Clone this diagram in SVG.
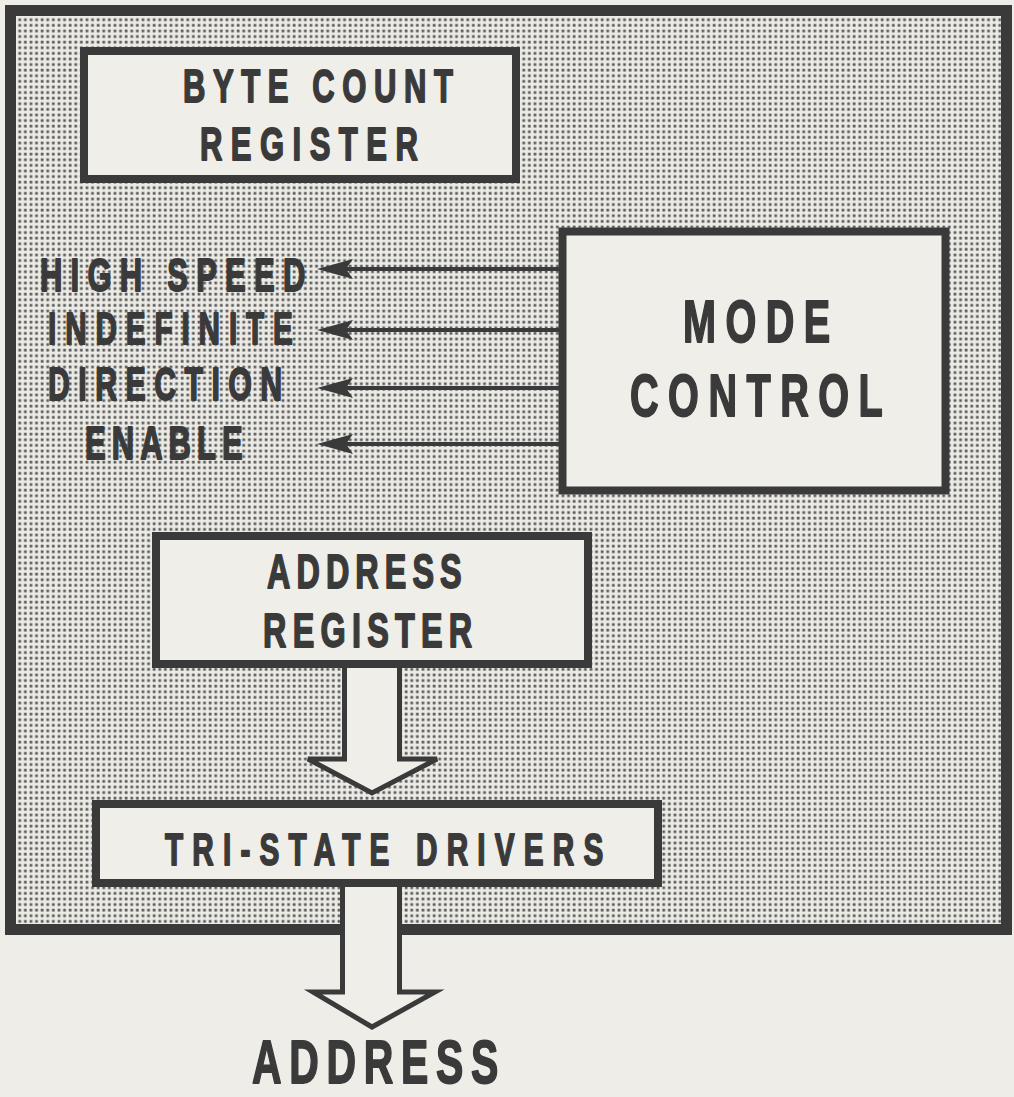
<svg xmlns="http://www.w3.org/2000/svg" width="1014" height="1097" viewBox="0 0 1014 1097">
<defs>
<pattern id="dots" width="5.6" height="5.6" patternUnits="userSpaceOnUse">
<rect width="5.6" height="5.6" fill="#ecebe6"/>
<rect x="1.6" y="1.6" width="2.7" height="2.7" fill="#5a5a5a"/>
</pattern>
</defs>
<style>
.box{fill:#efeee9;stroke:#3b3a3a;stroke-width:8}
.hollow{fill:#efeee9;stroke:#3b3a3a;stroke-width:5;stroke-linejoin:miter}
.line{stroke:#3b3a3a;stroke-width:4}
.head{fill:#3b3a3a}
text{font-family:"Liberation Sans",Arial,sans-serif;font-weight:bold;fill:#3b3a3a;stroke:#3b3a3a;stroke-width:1.8;stroke-linejoin:round}
</style>
<rect width="1014" height="1097" fill="#eeede8"/>
<g id="frame">
<rect x="10.5" y="10.5" width="996" height="919" fill="url(#dots)" stroke="#3b3a3a" stroke-width="11"/>
</g>
<g id="connectors">
<line class="line" x1="560" y1="269" x2="340" y2="269"/>
<polygon class="head" points="317,269 353,259 346,269 353,279"/>
<line class="line" x1="560" y1="330" x2="340" y2="330"/>
<polygon class="head" points="317,330 353,320 346,330 353,340"/>
<line class="line" x1="560" y1="388" x2="340" y2="388"/>
<polygon class="head" points="317,388 353,378 346,388 353,398"/>
<line class="line" x1="560" y1="444" x2="340" y2="444"/>
<polygon class="head" points="317,444 353,434 346,444 353,454"/>
<polygon id="arrow1" class="hollow" points="344.5,664 344.5,759 308,759 372,793 437,759 399.5,759 399.5,664"/>
<polygon id="arrow2" class="hollow" points="342.5,883 342.5,992 313,992 372,1027 435,992 399.5,992 399.5,883"/>
</g>
<g id="byte-count-register">
<rect class="box" x="84" y="51" width="432" height="128"/>
<text transform="translate(183,102) scale(0.66,1)" font-size="47" textLength="409" lengthAdjust="spacing">BYTE COUNT</text>
<text transform="translate(200,160) scale(0.66,1)" font-size="47" textLength="330" lengthAdjust="spacing">REGISTER</text>
</g>
<g id="mode-control">
<rect class="box" x="562.5" y="231.5" width="383" height="259" stroke-width="9"/>
<text transform="translate(683,342) scale(0.66,1)" font-size="60" textLength="223" lengthAdjust="spacing">MODE</text>
<text transform="translate(630,416) scale(0.66,1)" font-size="60" textLength="383" lengthAdjust="spacing">CONTROL</text>
</g>
<g id="labels">
<text transform="translate(40,291) scale(0.66,1)" font-size="47" textLength="402" lengthAdjust="spacing">HIGH SPEED</text>
<text transform="translate(48,344) scale(0.66,1)" font-size="45" textLength="371" lengthAdjust="spacing">INDEFINITE</text>
<text transform="translate(48,400) scale(0.66,1)" font-size="46" textLength="355" lengthAdjust="spacing">DIRECTION</text>
<text transform="translate(85,459) scale(0.66,1)" font-size="47" textLength="239" lengthAdjust="spacing">ENABLE</text>
</g>
<g id="address-register">
<rect class="box" x="156" y="536" width="432" height="128"/>
<text transform="translate(267,588) scale(0.66,1)" font-size="49" textLength="295" lengthAdjust="spacing">ADDRESS</text>
<text transform="translate(263,647) scale(0.66,1)" font-size="49" textLength="317" lengthAdjust="spacing">REGISTER</text>
</g>
<g id="tri-state-drivers">
<rect class="box" x="96" y="804" width="562" height="79"/>
<text transform="translate(165,865) scale(0.66,1)" font-size="45" textLength="664" lengthAdjust="spacing">TRI-STATE DRIVERS</text>
</g>
<g id="address-output">
<text transform="translate(252,1083) scale(0.66,1)" font-size="62" textLength="373" lengthAdjust="spacing">ADDRESS</text>
</g>
</svg>
